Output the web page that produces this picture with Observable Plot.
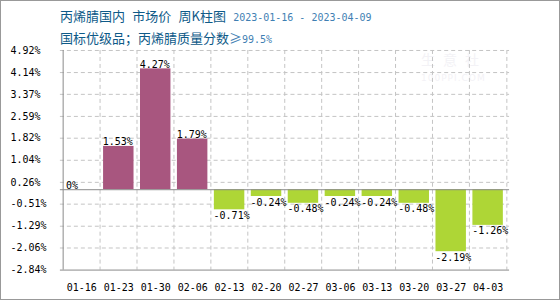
<!DOCTYPE html>
<html>
<head>
<meta charset="utf-8">
<script src="https://cdn.jsdelivr.net/npm/d3@7"></script>
<script src="https://cdn.jsdelivr.net/npm/@observablehq/plot@0.6"></script>
<style>
  html, body { margin: 0; padding: 0; background: #fff; }
  #frame { position: relative; width: 558px; height: 298px; border: 1px solid #999; overflow: hidden; }
  #title { position: absolute; left: 59px; top: 5px; font-family: "Noto Sans CJK SC", sans-serif; font-size: 13px; color: #0e5a88; line-height: 20px; white-space: pre; }
  #title .lat { font-family: "DejaVu Sans Mono", monospace; font-size: 10px; color: #3f7fb3; }
  #title .sp { font-family: "DejaVu Sans Mono", monospace; font-size: 12px; }
  #title .ge { color: #3f7fb3; }
  #chart { position: absolute; left: -1px; top: 39px; }
  #wm { position: absolute; left: 420px; top: 50px; color: #f3f2f6; font-family: "Noto Sans CJK SC", sans-serif; font-size: 14px; line-height: 16px; letter-spacing: 8px; }
  #wm .en { font-family: "DejaVu Sans", sans-serif; font-size: 9px; letter-spacing: 1px; }
</style>
</head>
<body>
<div id="frame">
  <div id="wm">生意社<br><span class="en">100PPI.COM</span></div>
  <div id="title">丙烯腈国内<span class="sp"> </span>市场价<span class="sp"> </span>周K柱图<span class="sp"> </span><span class="lat">2023-01-16 - 2023-04-09</span>
国标优级品；丙烯腈质量分数<span class="ge">≥</span><span class="lat">99.5%</span></div>
  <div id="chart"></div>
</div>
<script>
const categories = ["01-16","01-23","01-30","02-06","02-13","02-20","02-27","03-06","03-13","03-20","03-27","04-03"];
const values = [0, 1.53, 4.27, 1.79, -0.71, -0.24, -0.48, -0.24, -0.24, -0.48, -2.19, -1.26];
const yTicks = [-2.84, -2.06, -1.29, -0.51, 0.26, 1.04, 1.82, 2.59, 3.37, 4.14, 4.92];

const data = categories.map((c, i) => ({ cat: c, v: values[i] }));
const W = 560, ML = 60, MR = 50;
const step = (W - ML - MR) / categories.length;
const half = step / 2;
const barInset = 3.25;
const pos = "#a8567f", neg = "#aed636", grid = "#c4c4c4", axis = "#8a8a8a";
const fmt = d => (d === 0 ? "0" : d.toFixed(2)) + "%";

const chart = Plot.plot({
  width: W,
  height: 260,
  marginLeft: ML,
  marginRight: MR,
  marginTop: 10,
  marginBottom: 30,
  style: { fontFamily: "DejaVu Sans Mono, monospace", fontSize: "10px", color: "#000", background: "transparent" },
  x: { type: "band", domain: categories, padding: 0, label: null },
  y: { domain: [yTicks[0], yTicks[yTicks.length - 1]], label: null },
  marks: [
    Plot.ruleY(yTicks.slice(1), { stroke: grid, strokeDasharray: "4,3", strokeWidth: 1 }),
    Plot.ruleX(categories.slice(1), { dx: -half, stroke: grid, strokeDasharray: "4,3" }),
    Plot.ruleX(categories.slice(-1), { dx: half, stroke: grid, strokeDasharray: "4,3" }),
    Plot.barY(data, { x: "cat", y: "v", fill: d => d.v >= 0 ? pos : neg, insetLeft: barInset, insetRight: barInset }),
    Plot.ruleY([0], { stroke: axis }),
    Plot.ruleY([yTicks[0]], { stroke: axis }),
    Plot.ruleX(categories.slice(0, 1), { dx: -half, stroke: axis }),
    Plot.text(data.filter(d => d.v >= 0), { x: "cat", y: "v", text: d => fmt(d.v), textAnchor: "start", lineAnchor: "bottom", dx: -half + barInset - 0.5, dy: -1, fill: "#000" }),
    Plot.text(data.filter(d => d.v < 0), { x: "cat", y: "v", text: d => fmt(d.v), textAnchor: "start", lineAnchor: "top", dx: -half + barInset - 0.5, dy: 2, fill: "#000" }),
    Plot.axisY({ ticks: yTicks, tickFormat: fmt, tickSize: 0, tickPadding: 50, textAnchor: "start", label: null }),
    Plot.axisX({ tickSize: 0, tickPadding: 14, label: null })
  ]
});
document.getElementById("chart").appendChild(chart);
</script>
</body>
</html>
